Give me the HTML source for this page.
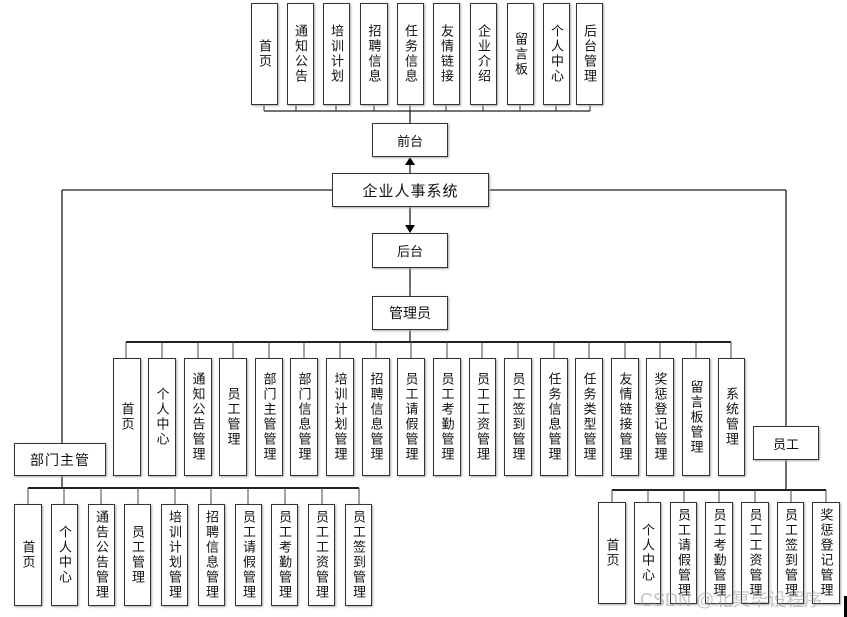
<!DOCTYPE html>
<html><head><meta charset="utf-8"><style>
body{margin:0;width:847px;height:617px;background:#fff;position:relative;overflow:hidden;font-family:"Liberation Sans","Noto Sans CJK SC",sans-serif;color:#111}
.b{position:absolute;box-sizing:border-box;border:1.3px solid #333;background:#fff;box-shadow:1px 1px 2px #aaa;display:flex;align-items:center;justify-content:center;font-size:13px}
.v{writing-mode:vertical-rl;text-orientation:upright;letter-spacing:2px;line-height:1}
svg{position:absolute;left:0;top:0}
.wm{position:absolute;left:640px;top:586px;font-size:18px;color:rgba(150,150,150,0.55);z-index:5;white-space:nowrap}
</style></head><body>
<svg width="847" height="617">
<g stroke="#222" stroke-width="1.3" fill="none">
<line x1="264" y1="111" x2="590" y2="111"/>
<line x1="410" y1="111" x2="410" y2="123"/>
<g stroke-width="1">
<line x1="264" y1="105" x2="264" y2="111"/><line x1="296" y1="105" x2="296" y2="111"/><line x1="336" y1="105" x2="336" y2="111"/><line x1="374" y1="105" x2="374" y2="111"/><line x1="410" y1="105" x2="410" y2="111"/><line x1="446" y1="105" x2="446" y2="111"/><line x1="483" y1="105" x2="483" y2="111"/><line x1="520" y1="105" x2="520" y2="111"/><line x1="556" y1="105" x2="556" y2="111"/><line x1="590" y1="105" x2="590" y2="111"/>
</g>
<line x1="410" y1="163" x2="410" y2="173"/>
<line x1="62" y1="190" x2="332" y2="190"/><line x1="489" y1="190" x2="786" y2="190"/>
<line x1="62" y1="190" x2="62" y2="443"/><line x1="786" y1="190" x2="786" y2="426"/>
<line x1="410" y1="207" x2="410" y2="226"/>
<line x1="410" y1="268" x2="410" y2="296"/>
<line x1="410" y1="330" x2="410" y2="342"/>
<line x1="126" y1="342" x2="731" y2="342" stroke-width="2"/>
<line x1="62" y1="476" x2="62" y2="488"/>
<line x1="28" y1="488" x2="359" y2="488" stroke-width="2"/>
<line x1="786" y1="460" x2="786" y2="490"/>
<line x1="612" y1="490" x2="826" y2="490" stroke-width="2"/>
</g>
<g stroke="#444" stroke-width="1">
<line x1="126" y1="342" x2="126" y2="358"/><line x1="162" y1="342" x2="162" y2="358"/><line x1="198" y1="342" x2="198" y2="358"/><line x1="233" y1="342" x2="233" y2="358"/><line x1="269" y1="342" x2="269" y2="358"/><line x1="304" y1="342" x2="304" y2="358"/><line x1="340" y1="342" x2="340" y2="358"/><line x1="376" y1="342" x2="376" y2="358"/><line x1="411" y1="342" x2="411" y2="358"/><line x1="447" y1="342" x2="447" y2="358"/><line x1="482" y1="342" x2="482" y2="358"/><line x1="518" y1="342" x2="518" y2="358"/><line x1="554" y1="342" x2="554" y2="358"/><line x1="589" y1="342" x2="589" y2="358"/><line x1="625" y1="342" x2="625" y2="358"/><line x1="660" y1="342" x2="660" y2="358"/><line x1="696" y1="342" x2="696" y2="358"/><line x1="731" y1="342" x2="731" y2="358"/>
<line x1="28" y1="488" x2="28" y2="504"/><line x1="64" y1="488" x2="64" y2="504"/><line x1="101" y1="488" x2="101" y2="504"/><line x1="138" y1="488" x2="138" y2="504"/><line x1="175" y1="488" x2="175" y2="504"/><line x1="211" y1="488" x2="211" y2="504"/><line x1="248" y1="488" x2="248" y2="504"/><line x1="285" y1="488" x2="285" y2="504"/><line x1="322" y1="488" x2="322" y2="504"/><line x1="359" y1="488" x2="359" y2="504"/>
<line x1="612" y1="490" x2="612" y2="502"/><line x1="648" y1="490" x2="648" y2="502"/><line x1="684" y1="490" x2="684" y2="502"/><line x1="719" y1="490" x2="719" y2="502"/><line x1="755" y1="490" x2="755" y2="502"/><line x1="791" y1="490" x2="791" y2="502"/><line x1="826" y1="490" x2="826" y2="502"/>
</g>
<polygon points="410,157 405,165 415,165" fill="#000"/>
<polygon points="410,233 405,225 415,225" fill="#000"/>
<rect x="844" y="596" width="3" height="21" fill="#000"/>
</svg>

<div class="b v" style="left:251px;top:3px;width:27px;height:102px">首页</div>
<div class="b v" style="left:287px;top:3px;width:27px;height:102px">通知公告</div>
<div class="b v" style="left:323px;top:3px;width:27px;height:102px">培训计划</div>
<div class="b v" style="left:360px;top:3px;width:28px;height:102px">招聘信息</div>
<div class="b v" style="left:397px;top:3px;width:27px;height:102px">任务信息</div>
<div class="b v" style="left:433px;top:3px;width:27px;height:102px">友情链接</div>
<div class="b v" style="left:470px;top:3px;width:27px;height:102px">企业介绍</div>
<div class="b v" style="left:507px;top:3px;width:27px;height:102px">留言板</div>
<div class="b v" style="left:543px;top:3px;width:27px;height:102px">个人中心</div>
<div class="b v" style="left:576px;top:3px;width:27px;height:102px">后台管理</div>

<div class="b" style="left:372px;top:123px;width:76px;height:34px">前台</div>
<div class="b" style="left:332px;top:173px;width:157px;height:34px;font-size:15px;letter-spacing:1px">企业人事系统</div>
<div class="b" style="left:372px;top:233px;width:76px;height:35px">后台</div>
<div class="b" style="left:372px;top:296px;width:76px;height:34px;font-size:14px">管理员</div>
<div class="b" style="left:14px;top:443px;width:92px;height:33px;font-size:14px;letter-spacing:1px">部门主管</div>
<div class="b" style="left:753px;top:426px;width:66px;height:34px">员工</div>

<div class="b v" style="left:113px;top:358px;width:28px;height:118px">首页</div>
<div class="b v" style="left:148px;top:358px;width:28px;height:118px">个人中心</div>
<div class="b v" style="left:184px;top:358px;width:28px;height:118px">通知公告管理</div>
<div class="b v" style="left:219px;top:358px;width:28px;height:118px">员工管理</div>
<div class="b v" style="left:255px;top:358px;width:28px;height:118px">部门主管管理</div>
<div class="b v" style="left:290px;top:358px;width:28px;height:118px">部门信息管理</div>
<div class="b v" style="left:326px;top:358px;width:28px;height:118px">培训计划管理</div>
<div class="b v" style="left:362px;top:358px;width:28px;height:118px">招聘信息管理</div>
<div class="b v" style="left:397px;top:358px;width:28px;height:118px">员工请假管理</div>
<div class="b v" style="left:433px;top:358px;width:28px;height:118px">员工考勤管理</div>
<div class="b v" style="left:469px;top:358px;width:27px;height:118px">员工工资管理</div>
<div class="b v" style="left:504px;top:358px;width:28px;height:118px">员工签到管理</div>
<div class="b v" style="left:540px;top:358px;width:28px;height:118px">任务信息管理</div>
<div class="b v" style="left:575px;top:358px;width:28px;height:118px">任务类型管理</div>
<div class="b v" style="left:611px;top:358px;width:28px;height:118px">友情链接管理</div>
<div class="b v" style="left:646px;top:358px;width:28px;height:118px">奖惩登记管理</div>
<div class="b v" style="left:682px;top:358px;width:28px;height:118px">留言板管理</div>
<div class="b v" style="left:718px;top:358px;width:27px;height:118px">系统管理</div>

<div class="b v" style="left:14px;top:504px;width:28px;height:102px">首页</div>
<div class="b v" style="left:51px;top:504px;width:27px;height:102px">个人中心</div>
<div class="b v" style="left:88px;top:504px;width:27px;height:102px">通告公告管理</div>
<div class="b v" style="left:124px;top:504px;width:27px;height:102px">员工管理</div>
<div class="b v" style="left:161px;top:504px;width:27px;height:102px">培训计划管理</div>
<div class="b v" style="left:198px;top:504px;width:27px;height:102px">招聘信息管理</div>
<div class="b v" style="left:235px;top:504px;width:27px;height:102px">员工请假管理</div>
<div class="b v" style="left:271px;top:504px;width:27px;height:102px">员工考勤管理</div>
<div class="b v" style="left:308px;top:504px;width:27px;height:102px">员工工资管理</div>
<div class="b v" style="left:345px;top:504px;width:27px;height:102px">员工签到管理</div>

<div class="b v" style="left:598px;top:502px;width:28px;height:102px">首页</div>
<div class="b v" style="left:634px;top:502px;width:27px;height:102px">个人中心</div>
<div class="b v" style="left:670px;top:502px;width:27px;height:102px">员工请假管理</div>
<div class="b v" style="left:705px;top:502px;width:28px;height:102px">员工考勤管理</div>
<div class="b v" style="left:741px;top:502px;width:28px;height:102px">员工工资管理</div>
<div class="b v" style="left:777px;top:502px;width:27px;height:102px">员工签到管理</div>
<div class="b v" style="left:812px;top:502px;width:28px;height:102px">奖惩登记管理</div>
<div class="wm">CSDN @北冥毕设程序</div>
</body></html>
